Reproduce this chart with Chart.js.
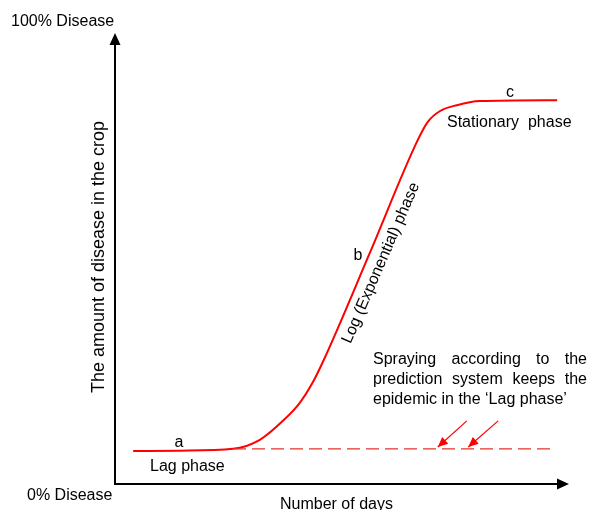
<!DOCTYPE html>
<html>
<head>
<meta charset="utf-8">
<script src="https://cdn.jsdelivr.net/npm/chart.js"></script>
<style>
  html, body { margin: 0; padding: 0; background: #fff; }
  #wrap { width: 592px; height: 510px; }
</style>
</head>
<body>
<div id="wrap"><canvas id="chart" width="592" height="510"></canvas></div>
<script>
// disease progress curve (x: time 0-100, y: disease 0-100)
const curveX = [4.0, 14.3, 26.0, 31.9, 37.4, 40.7, 43.6, 45.8, 56.2, 66.7, 68.9, 71.6, 75.3, 80.4, 97.4];
const curveY = [7.3, 7.4, 7.8, 9.8, 14.4, 18.0, 22.6, 27.1, 51.4, 76.3, 80.3, 82.7, 84.0, 84.9, 85.1];

// sprayed epidemic stays in lag phase
const sprayX = [26.0, 96.5];
const sprayY = [7.8, 7.8];

// the two red pointer arrows (start, end)
const arrow1X = [77.5, 71.1];
const arrow1Y = [14.0, 8.2];
const arrow2X = [84.4, 77.8];
const arrow2Y = [14.0, 8.2];

const yTop = '100% Disease';
const yBottom = '0% Disease';
const xTitle = 'Number of days';
const yTitle = 'The amount of disease in the crop';
const sprayNote = ['Spraying according to the', 'prediction system keeps the', 'epidemic in the \u2018Lag phase\u2019'];

const FONT = '"Liberation Sans", Arial, sans-serif';

function toPoints(xs, ys) {
    return xs.map((x, i) => ({ x: x, y: ys[i] }));
}

function arrowHead(ctx, x0, y0, x1, y1, len, half, color) {
    const a = Math.atan2(y1 - y0, x1 - x0);
    ctx.save();
    ctx.fillStyle = color;
    ctx.translate(x1, y1);
    ctx.rotate(a);
    ctx.beginPath();
    ctx.moveTo(0, 0);
    ctx.lineTo(-len, -half);
    ctx.lineTo(-len, half);
    ctx.closePath();
    ctx.fill();
    ctx.restore();
}

function justifyLine(ctx, text, left, right, y) {
    const words = text.split(' ');
    const wordsW = words.reduce((s, w) => s + ctx.measureText(w).width, 0);
    const gap = (right - left - wordsW) / (words.length - 1);
    let x = left;
    words.forEach(w => {
        ctx.fillText(w, x, y);
        x += ctx.measureText(w).width + gap;
    });
}

// axes with arrows, red pointer heads and all the labels
const decorations = {
    id: 'decorations',
    afterDatasetsDraw(chart) {
        const ctx = chart.ctx;
        const xs = chart.scales.x, ys = chart.scales.y;
        const x0 = xs.getPixelForValue(0), x1 = xs.getPixelForValue(100);
        const y0 = ys.getPixelForValue(0), y1 = ys.getPixelForValue(100);

        ctx.save();
        ctx.strokeStyle = '#000';
        ctx.lineWidth = 2;
        ctx.beginPath();
        ctx.moveTo(x0, y1 + 10);
        ctx.lineTo(x0, y0);
        ctx.lineTo(x1 - 10, y0);
        ctx.stroke();
        arrowHead(ctx, x0, y0, x0, y1, 12, 5.5, '#000');
        arrowHead(ctx, x0, y0, x1, y0, 12, 5.5, '#000');

        [[arrow1X, arrow1Y], [arrow2X, arrow2Y]].forEach(([ax, ay]) => {
            arrowHead(ctx,
                xs.getPixelForValue(ax[0]), ys.getPixelForValue(ay[0]),
                xs.getPixelForValue(ax[1]), ys.getPixelForValue(ay[1]),
                10, 4.5, '#ff0000');
        });

        ctx.fillStyle = '#000';
        ctx.textBaseline = 'alphabetic';
        ctx.font = '16px ' + FONT;
        ctx.textAlign = 'left';
        ctx.fillText(yTop, 11, 26);
        ctx.fillText(yBottom, 27, 500);
        ctx.fillText(xTitle, 280, 509);
        ctx.fillText('Lag phase', 150, 471);
        ctx.fillText('Stationary  phase', 447, 127);

        ctx.textAlign = 'center';
        ctx.fillText('a', 179, 447);
        ctx.fillText('b', 358, 260);
        ctx.fillText('c', 510, 97);

        ctx.textAlign = 'left';
        justifyLine(ctx, sprayNote[0], 373, 587, 364);
        justifyLine(ctx, sprayNote[1], 373, 587, 384);
        ctx.fillText(sprayNote[2], 373, 404);

        ctx.save();
        ctx.translate(381, 263);
        ctx.rotate(-66.6 * Math.PI / 180);
        ctx.textAlign = 'center';
        ctx.textBaseline = 'middle';
        ctx.fillText('Log (Exponential) phase', 0, 0);
        ctx.restore();

        ctx.save();
        ctx.font = '18px ' + FONT;
        ctx.translate(104, 257);
        ctx.rotate(-Math.PI / 2);
        ctx.textAlign = 'center';
        ctx.fillText(yTitle, 0, 0);
        ctx.restore();

        ctx.restore();
    }
};

new Chart(document.getElementById('chart'), {
    type: 'scatter',
    data: {
        datasets: [
            {
                data: toPoints(sprayX, sprayY),
                showLine: true,
                borderColor: '#e8302a',
                borderWidth: 1.2,
                borderDash: [13, 6],
                pointRadius: 0
            },
            {
                data: toPoints(curveX, curveY),
                showLine: true,
                borderColor: '#ff0000',
                borderWidth: 2,
                cubicInterpolationMode: 'monotone',
                pointRadius: 0
            },
            {
                data: toPoints(arrow1X, arrow1Y),
                showLine: true,
                borderColor: '#ff0000',
                borderWidth: 1.2,
                pointRadius: 0
            },
            {
                data: toPoints(arrow2X, arrow2Y),
                showLine: true,
                borderColor: '#ff0000',
                borderWidth: 1.2,
                pointRadius: 0
            }
        ]
    },
    options: {
        responsive: false,
        animation: false,
        events: [],
        layout: { padding: { left: 115, right: 23, top: 33, bottom: 26 } },
        plugins: {
            legend: { display: false },
            tooltip: { enabled: false }
        },
        scales: {
            x: { type: 'linear', min: 0, max: 100, display: false },
            y: { type: 'linear', min: 0, max: 100, display: false }
        }
    },
    plugins: [decorations]
});
</script>
</body>
</html>
